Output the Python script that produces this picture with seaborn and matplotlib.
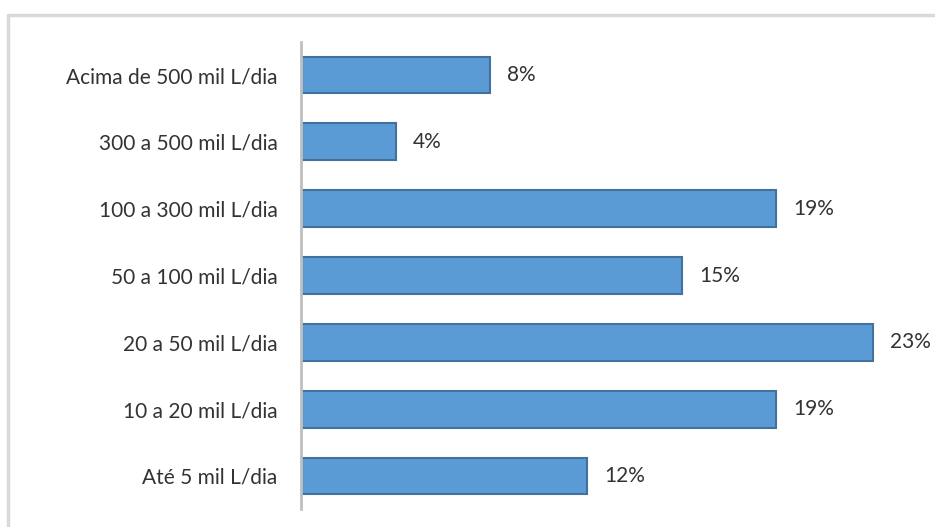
import matplotlib
matplotlib.use("Agg")
import matplotlib.pyplot as plt
import seaborn as sns
import pandas as pd
from matplotlib.lines import Line2D

categories = ["Acima de 500 mil L/dia", "300 a 500 mil L/dia", "100 a 300 mil L/dia",
              "50 a 100 mil L/dia", "20 a 50 mil L/dia", "10 a 20 mil L/dia", "Até 5 mil L/dia"]
values = [7.6, 3.8, 19.1, 15.3, 23.0, 19.1, 11.5]
value_labels = ["8%", "4%", "19%", "15%", "23%", "19%", "12%"]

df = pd.DataFrame({"cat": categories, "val": values})

sns.set_theme(style="white")
plt.rcParams["font.family"] = ["Lato", "DejaVu Sans"]

W, H = 935, 527
fig = plt.figure(figsize=(W / 100, H / 100), dpi=100)
ax_left, ax_right = 301, 920
ax_top, ax_bot = 41.6, 509.4
ax = fig.add_axes([ax_left / W, 1 - ax_bot / H, (ax_right - ax_left) / W, (ax_bot - ax_top) / H])

sns.barplot(data=df, x="val", y="cat", orient="h", color="#5B9BD5", saturation=1,
            edgecolor="#41719C", linewidth=1.5, width=0.55, ax=ax)

k = 24.87
ax.set_xlim(0, (ax_right - ax_left) / k)
ax.set_ylim(6.5, -0.5)

for i, (v, lab) in enumerate(zip(values, value_labels)):
    ax.annotate(lab, xy=(v, i), xytext=(12.5, 0), textcoords="offset points",
                va="center", ha="left", fontsize=15, color="#333333")

ax.set_xlabel("")
ax.set_ylabel("")
ax.set_xticks([])
ax.tick_params(axis="y", length=0, pad=17, labelsize=15, labelcolor="#333333")
for s in ["top", "right", "bottom"]:
    ax.spines[s].set_visible(False)
ax.spines["left"].set_color("#BFBFBF")
ax.spines["left"].set_linewidth(2)

top_y = 1 - 15 / H
left_x = 8 / W
fig.add_artist(Line2D([left_x, 1.05], [top_y, top_y], transform=fig.transFigure,
                      color="#D9D9D9", linewidth=2.5))
fig.add_artist(Line2D([left_x, left_x], [-0.05, top_y], transform=fig.transFigure,
                      color="#D9D9D9", linewidth=2.5))

fig.savefig("out.png", dpi=100)
